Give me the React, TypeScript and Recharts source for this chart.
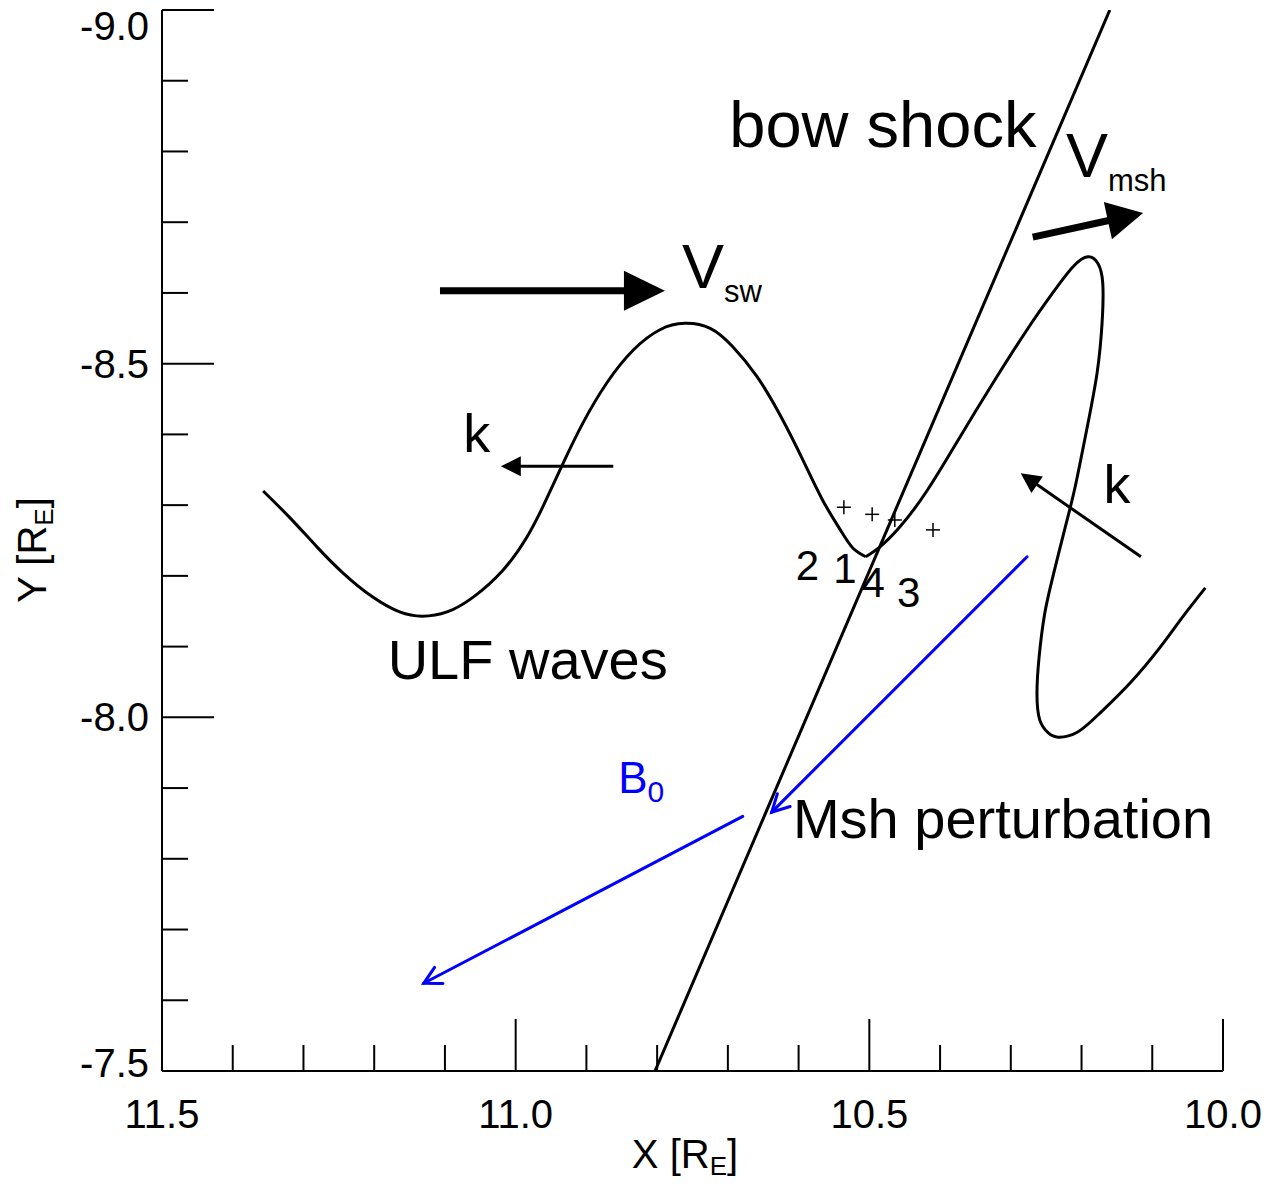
import React from "react";
import {
  ComposedChart,
  Line,
  Scatter,
  XAxis,
  YAxis,
  ReferenceLine,
  ReferenceDot,
} from "recharts";

const FONT = '"Liberation Sans", Arial, Helvetica, sans-serif';

// axes (R_E), x axis runs from 11.5 on the left to 10.0 on the right
const xTicks = [11.5, 11.4, 11.3, 11.2, 11.1, 11.0, 10.9, 10.8, 10.7, 10.6, 10.5, 10.4, 10.3, 10.2, 10.1, 10.0];
const xMajor = [11.5, 11.0, 10.5, 10.0];
const yTicks = [-9.0, -8.9, -8.8, -8.7, -8.6, -8.5, -8.4, -8.3, -8.2, -8.1, -8.0, -7.9, -7.8, -7.7, -7.6, -7.5];
const yMajor = [-9.0, -8.5, -8.0, -7.5];

// ULF wave upstream of the shock
const upstreamWave = [
  { x: 11.357, y: -8.32 },
  { x: 11.319, y: -8.282 },
  { x: 11.281, y: -8.241 },
  { x: 11.244, y: -8.204 },
  { x: 11.202, y: -8.17 },
  { x: 11.164, y: -8.149 },
  { x: 11.132, y: -8.143 },
  { x: 11.097, y: -8.149 },
  { x: 11.06, y: -8.17 },
  { x: 11.018, y: -8.208 },
  { x: 10.984, y: -8.255 },
  { x: 10.96, y: -8.301 },
  { x: 10.934, y: -8.357 },
  { x: 10.905, y: -8.416 },
  { x: 10.871, y: -8.473 },
  { x: 10.834, y: -8.519 },
  { x: 10.796, y: -8.548 },
  { x: 10.761, y: -8.557 },
  { x: 10.725, y: -8.55 },
  { x: 10.693, y: -8.524 },
  { x: 10.659, y: -8.482 },
  { x: 10.626, y: -8.427 },
  { x: 10.594, y: -8.364 },
  { x: 10.566, y: -8.307 },
  { x: 10.541, y: -8.265 },
  { x: 10.523, y: -8.239 },
  { x: 10.505, y: -8.227 },
];

// magnetosheath perturbation downstream of the shock
const downstreamWave = [
  { x: 10.505, y: -8.227 },
  { x: 10.485, y: -8.241 },
  { x: 10.457, y: -8.269 },
  { x: 10.418, y: -8.321 },
  { x: 10.372, y: -8.396 },
  { x: 10.325, y: -8.473 },
  { x: 10.277, y: -8.548 },
  { x: 10.24, y: -8.601 },
  { x: 10.212, y: -8.637 },
  { x: 10.191, y: -8.651 },
  { x: 10.177, y: -8.642 },
  { x: 10.17, y: -8.614 },
  { x: 10.171, y: -8.557 },
  { x: 10.178, y: -8.487 },
  { x: 10.192, y: -8.41 },
  { x: 10.209, y: -8.326 },
  { x: 10.223, y: -8.269 },
  { x: 10.24, y: -8.201 },
  { x: 10.252, y: -8.147 },
  { x: 10.26, y: -8.085 },
  { x: 10.263, y: -8.034 },
  { x: 10.259, y: -7.996 },
  { x: 10.247, y: -7.978 },
  { x: 10.233, y: -7.972 },
  { x: 10.206, y: -7.979 },
  { x: 10.174, y: -8.006 },
  { x: 10.131, y: -8.049 },
  { x: 10.089, y: -8.099 },
  { x: 10.057, y: -8.142 },
  { x: 10.025, y: -8.183 },
];

const bowShock = [
  { x: 10.803, y: -7.5 },
  { x: 10.16, y: -9.0 },
];

// spacecraft positions
const probes = [
  { x: 10.536, y: -8.297 },
  { x: 10.496, y: -8.287 },
  { x: 10.464, y: -8.279 },
  { x: 10.41, y: -8.265 },
];

const arrows = [
  { kind: "flow", x1: 11.107, y1: -8.603, x2: 10.789, y2: -8.603 },
  { kind: "flowMsh", x1: 10.269, y1: -8.679, x2: 10.113, y2: -8.713 },
  { kind: "k", x1: 10.862, y1: -8.355, x2: 11.021, y2: -8.355 },
  { kind: "k", x1: 10.116, y1: -8.227, x2: 10.286, y2: -8.345 },
  { kind: "b", x1: 10.277, y1: -8.227, x2: 10.638, y2: -7.866 },
  { kind: "b", x1: 10.679, y1: -7.86, x2: 11.13, y2: -7.624 },
];

const notes = [
  { text: "bow shock", sub: "", x: 10.698, y: -8.807, kind: "big" },
  { text: "V", sub: "sw", x: 10.765, y: -8.607, kind: "vel" },
  { text: "V", sub: "msh", x: 10.222, y: -8.764, kind: "vel" },
  { text: "k", sub: "", x: 11.074, y: -8.375, kind: "k" },
  { text: "k", sub: "", x: 10.169, y: -8.303, kind: "k" },
  { text: "ULF waves", sub: "", x: 11.181, y: -8.054, kind: "label" },
  { text: "Msh perturbation", sub: "", x: 10.608, y: -7.829, kind: "label" },
  { text: "B", sub: "0", x: 10.855, y: -7.893, kind: "b" },
  { text: "2", sub: "", x: 10.604, y: -8.194, kind: "num" },
  { text: "1", sub: "", x: 10.551, y: -8.19, kind: "num" },
  { text: "4", sub: "", x: 10.511, y: -8.17, kind: "num" },
  { text: "3", sub: "", x: 10.461, y: -8.156, kind: "num" },
];

const noteStyle: Record<string, any> = {
  big: { size: 65, color: "#000" },
  vel: { size: 63, subSize: 31, subDy: 14, color: "#000" },
  k: { size: 54, color: "#000" },
  label: { size: 56, color: "#000" },
  b: { size: 44, subSize: 30, subDy: 9, color: "#0000ff" },
  num: { size: 42, color: "#000" },
};

const arrowStyle: Record<string, any> = {
  flow: { width: 7, head: 41, half: 20, color: "#000" },
  flowMsh: { width: 7, head: 36, half: 19, color: "#000" },
  k: { width: 3, head: 20, half: 10, color: "#000" },
  b: { width: 3, head: 17, half: 9, color: "#0000ff", open: true },
};

const W = 1276;
const H = 1185;
const PLOT = { left: 162, top: 10, right: 1223, bottom: 1071 };
const MINOR = 26;
const MAJOR = 52;

const isMajor = (v: number, majors: number[]) => majors.some((m) => Math.abs(m - v) < 1e-6);

const BottomTick = (p: any) => {
  const v = p.payload.value;
  const major = isMajor(v, xMajor);
  return (
    <g>
      <line x1={p.x} y1={p.y} x2={p.x} y2={p.y - (major ? MAJOR : MINOR)} stroke="#000" strokeWidth={2} />
      {major && (
        <text x={p.x} y={p.y + 57} textAnchor="middle" fontSize={40} fontFamily={FONT} fill="#000">
          {v.toFixed(1)}
        </text>
      )}
    </g>
  );
};

const TopTick = (p: any) => {
  const major = isMajor(p.payload.value, xMajor);
  return <line x1={p.x} y1={p.y} x2={p.x} y2={p.y + (major ? MAJOR : MINOR)} stroke="#000" strokeWidth={2} />;
};

const LeftTick = (p: any) => {
  const v = p.payload.value;
  const major = isMajor(v, yMajor);
  const base = Math.min(Math.max(p.y + 14, PLOT.top + 30), PLOT.bottom + 6);
  return (
    <g>
      <line x1={p.x} y1={p.y} x2={p.x + (major ? MAJOR : MINOR)} y2={p.y} stroke="#000" strokeWidth={2} />
      {major && (
        <text x={p.x - 13} y={base} textAnchor="end" fontSize={40} fontFamily={FONT} fill="#000">
          {v.toFixed(1)}
        </text>
      )}
    </g>
  );
};

const RightTick = (p: any) => {
  const major = isMajor(p.payload.value, yMajor);
  return <line x1={p.x} y1={p.y} x2={p.x - (major ? MAJOR : MINOR)} y2={p.y} stroke="#000" strokeWidth={2} />;
};

const Arrow = ({ x1, y1, x2, y2, kind }: any) => {
  const s = arrowStyle[kind];
  const dx = x2 - x1;
  const dy = y2 - y1;
  const len = Math.hypot(dx, dy) || 1;
  const ux = dx / len;
  const uy = dy / len;
  const nx = -uy;
  const ny = ux;
  const bx = x2 - s.head * ux;
  const by = y2 - s.head * uy;
  if (s.open) {
    return (
      <g stroke={s.color} strokeWidth={s.width} fill="none" strokeLinecap="round">
        <line x1={x1} y1={y1} x2={x2} y2={y2} />
        <polyline points={`${bx + s.half * nx},${by + s.half * ny} ${x2},${y2} ${bx - s.half * nx},${by - s.half * ny}`} />
      </g>
    );
  }
  return (
    <g>
      <line x1={x1} y1={y1} x2={bx + 2 * ux} y2={by + 2 * uy} stroke={s.color} strokeWidth={s.width} />
      <polygon
        points={`${x2},${y2} ${bx + s.half * nx},${by + s.half * ny} ${bx - s.half * nx},${by - s.half * ny}`}
        fill={s.color}
      />
    </g>
  );
};

const Note = ({ cx, cy, note }: any) => {
  const s = noteStyle[note.kind];
  return (
    <text x={cx} y={cy} fontSize={s.size} fontFamily={FONT} fill={s.color}>
      {note.text}
      {note.sub && (
        <tspan fontSize={s.subSize} dy={s.subDy}>
          {note.sub}
        </tspan>
      )}
    </text>
  );
};

const Plus = ({ cx, cy }: any) => (
  <g stroke="#000" strokeWidth={1.5}>
    <line x1={cx - 7} y1={cy} x2={cx + 7} y2={cy} />
    <line x1={cx} y1={cy - 7} x2={cx} y2={cy + 7} />
  </g>
);

const XTitle = () => (
  <text x={685} y={1168} textAnchor="middle" fontSize={40} fontFamily={FONT} fill="#000">
    X [R
    <tspan fontSize={26} dy={7}>
      E
    </tspan>
    <tspan dy={-7}>]</tspan>
  </text>
);

const YTitle = () => (
  <text
    x={46}
    y={550}
    transform="rotate(-90 46 550)"
    textAnchor="middle"
    fontSize={40}
    fontFamily={FONT}
    fill="#000"
  >
    Y [R
    <tspan fontSize={26} dy={7}>
      E
    </tspan>
    <tspan dy={-7}>]</tspan>
  </text>
);

export default function App() {
  return (
    <div style={{ position: "absolute", left: 0, top: 0, width: W, height: H, background: "#fff", fontFamily: FONT }}>
      <ComposedChart width={W} height={H} margin={{ top: PLOT.top, right: W - PLOT.right, bottom: 0, left: 0 }}>
        <XAxis
          dataKey="x"
          type="number"
          domain={[10, 11.5]}
          reversed
          allowDataOverflow
          ticks={xTicks}
          interval={0}
          height={H - PLOT.bottom}
          tickSize={0}
          tickMargin={0}
          tickLine={false}
          tick={BottomTick}
          axisLine={{ stroke: "#000", strokeWidth: 2 }}
          label={{ content: XTitle }}
        />
        <XAxis
          xAxisId="top"
          orientation="top"
          dataKey="x"
          type="number"
          domain={[10, 11.5]}
          reversed
          allowDataOverflow
          ticks={xTicks}
          interval={0}
          height={0}
          tickSize={0}
          tickMargin={0}
          tickLine={false}
          tick={TopTick}
          axisLine={{ stroke: "#000", strokeWidth: 2 }}
        />
        <YAxis
          dataKey="y"
          type="number"
          domain={[-9, -7.5]}
          reversed
          allowDataOverflow
          ticks={yTicks}
          interval={0}
          width={PLOT.left}
          tickSize={0}
          tickMargin={0}
          tickLine={false}
          tick={LeftTick}
          axisLine={{ stroke: "#000", strokeWidth: 2 }}
          label={{ content: YTitle }}
        />
        <YAxis
          yAxisId="right"
          orientation="right"
          dataKey="y"
          type="number"
          domain={[-9, -7.5]}
          reversed
          allowDataOverflow
          ticks={yTicks}
          interval={0}
          width={0}
          tickSize={0}
          tickMargin={0}
          tickLine={false}
          tick={RightTick}
          axisLine={{ stroke: "#000", strokeWidth: 2 }}
        />
        <Line
          data={bowShock}
          dataKey="y"
          type="linear"
          stroke="#000"
          strokeWidth={3}
          dot={false}
          activeDot={false}
          isAnimationActive={false}
        />
        <Line
          data={upstreamWave}
          dataKey="y"
          type="natural"
          stroke="#000"
          strokeWidth={3}
          dot={false}
          activeDot={false}
          isAnimationActive={false}
        />
        <Line
          data={downstreamWave}
          dataKey="y"
          type="natural"
          stroke="#000"
          strokeWidth={3}
          dot={false}
          activeDot={false}
          isAnimationActive={false}
        />
        <Scatter data={probes} dataKey="y" shape={(p: any) => <Plus cx={p.cx} cy={p.cy} />} isAnimationActive={false} />
        {arrows.map((a, i) => (
          <ReferenceLine
            key={`arrow-${i}`}
            segment={[
              { x: a.x1, y: a.y1 },
              { x: a.x2, y: a.y2 },
            ]}
            shape={(p: any) => <Arrow x1={p.x1} y1={p.y1} x2={p.x2} y2={p.y2} kind={a.kind} />}
          />
        ))}
        {notes.map((n, i) => (
          <ReferenceDot
            key={`note-${i}`}
            x={n.x}
            y={n.y}
            r={0}
            shape={(p: any) => <Note cx={p.cx} cy={p.cy} note={n} />}
          />
        ))}
      </ComposedChart>
    </div>
  );
}
